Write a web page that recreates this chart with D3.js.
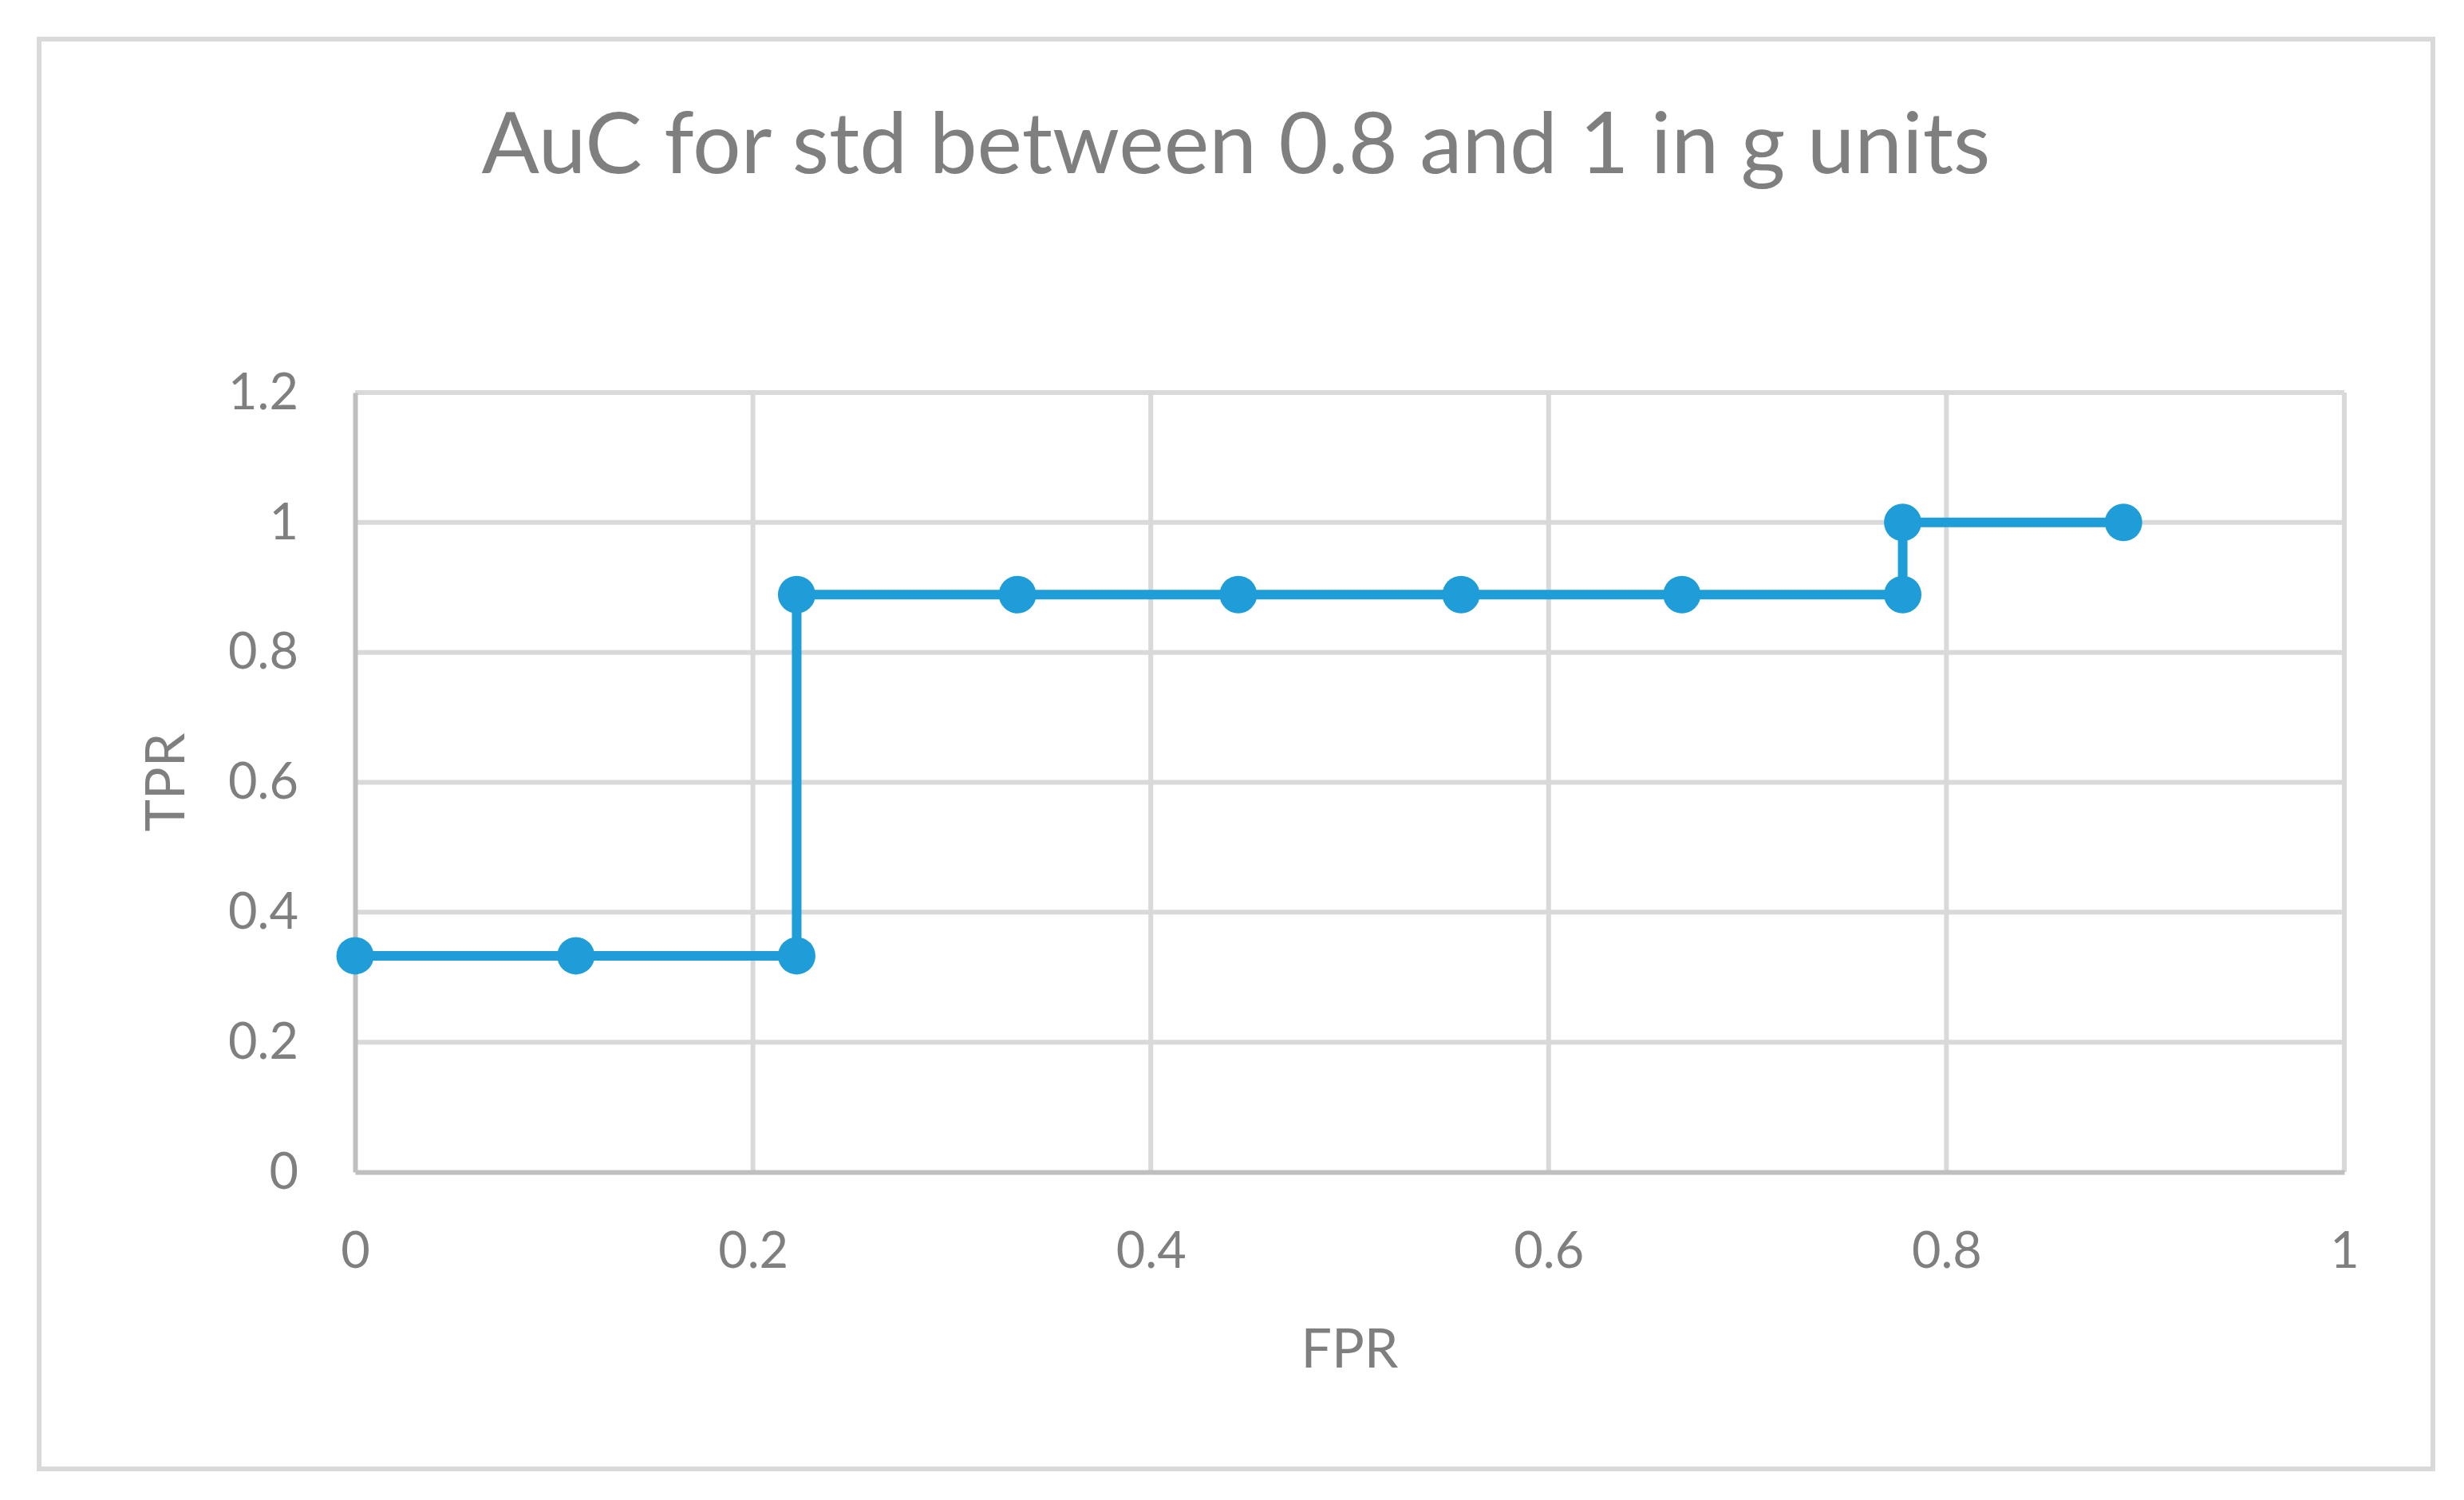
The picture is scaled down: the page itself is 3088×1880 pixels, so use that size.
<!DOCTYPE html>
<html>
<head>
<meta charset="utf-8">
<script src="https://cdn.jsdelivr.net/npm/d3@7"></script>
<style>
  html, body { margin: 0; padding: 0; background: #fff; }
  svg { display: block; }
</style>
</head>
<body>
<div id="chart"></div>
<script>
// ROC points (FPR, TPR)
const fprValues = [0, 0.111, 0.222, 0.222, 0.333, 0.444, 0.556, 0.667, 0.778, 0.778, 0.889];
const tprValues = [0.333, 0.333, 0.333, 0.889, 0.889, 0.889, 0.889, 0.889, 0.889, 1, 1];

const xTicks = [0, 0.2, 0.4, 0.6, 0.8, 1];
const yTicks = [0, 0.2, 0.4, 0.6, 0.8, 1, 1.2];

const chartTitle = 'AuC for std between 0.8 and 1 in g units';
const xTitle = 'FPR';
const yTitle = 'TPR';

const width = 3088;
const height = 1880;
const margin = { top: 492, right: 150, bottom: 411, left: 445 };
const innerW = width - margin.left - margin.right;
const innerH = height - margin.top - margin.bottom;

const textColor = '#7f7f7f';
const gridColor = '#d9d9d9';
const axisColor = '#bfbfbf';
const lineColor = '#1f9dd9';
const font = 'Lato, "Open Sans", sans-serif';

const points = fprValues.map((x, i) => ({ x: x, y: tprValues[i] }));

const svg = d3
  .select('#chart')
  .append('svg')
  .attr('width', width)
  .attr('height', height);

// chart area border
svg
  .append('rect')
  .attr('x', 49)
  .attr('y', 49)
  .attr('width', 3000)
  .attr('height', 1792)
  .attr('fill', '#fff')
  .attr('stroke', gridColor)
  .attr('stroke-width', 6);

svg
  .append('text')
  .attr('x', 1549)
  .attr('y', 217)
  .attr('text-anchor', 'middle')
  .attr('font-family', font)
  .attr('font-size', 107)
  .attr('fill', textColor)
  .text(chartTitle);

const x = d3.scaleLinear().domain([0, 1]).range([0, innerW]);
const y = d3.scaleLinear().domain([0, 1.2]).range([innerH, 0]);

const g = svg.append('g').attr('transform', `translate(${margin.left},${margin.top})`);

// gridlines
g.append('g')
  .selectAll('line')
  .data(yTicks.filter(d => d !== 0))
  .join('line')
  .attr('x1', 0)
  .attr('x2', innerW)
  .attr('y1', d => y(d))
  .attr('y2', d => y(d))
  .attr('stroke', gridColor)
  .attr('stroke-width', 6);

g.append('g')
  .selectAll('line')
  .data(xTicks.filter(d => d !== 0))
  .join('line')
  .attr('x1', d => x(d))
  .attr('x2', d => x(d))
  .attr('y1', 0)
  .attr('y2', innerH)
  .attr('stroke', gridColor)
  .attr('stroke-width', 6);

// axes (d3 axis, no tick marks, Excel style)
const xAxis = g
  .append('g')
  .attr('transform', `translate(0,${innerH})`)
  .call(d3.axisBottom(x).tickValues(xTicks).tickFormat(d3.format('~g')).tickSize(0).tickPadding(98));

const yAxis = g
  .append('g')
  .call(d3.axisLeft(y).tickValues(yTicks).tickFormat(d3.format('~g')).tickSize(0).tickPadding(71));

[xAxis, yAxis].forEach(a => {
  a.select('.domain').attr('stroke', axisColor).attr('stroke-width', 6);
  a.selectAll('text')
    .attr('font-family', font)
    .attr('font-size', 63)
    .attr('fill', textColor);
});
xAxis.selectAll('text').attr('dy', '0.35em').attr('y', 98);

// axis titles
svg
  .append('text')
  .attr('x', margin.left + innerW / 2)
  .attr('y', 1690)
  .attr('dy', '0.35em')
  .attr('text-anchor', 'middle')
  .attr('font-family', font)
  .attr('font-size', 68)
  .attr('fill', textColor)
  .text(xTitle);

svg
  .append('text')
  .attr('transform', `translate(207,${margin.top + innerH / 2}) rotate(-90)`)
  .attr('dy', '0.35em')
  .attr('text-anchor', 'middle')
  .attr('font-family', font)
  .attr('font-size', 68)
  .attr('fill', textColor)
  .text(yTitle);

// ROC line + markers
const line = d3
  .line()
  .x(d => x(d.x))
  .y(d => y(d.y));

g.append('path')
  .datum(points)
  .attr('d', line)
  .attr('fill', 'none')
  .attr('stroke', lineColor)
  .attr('stroke-width', 12)
  .attr('stroke-linejoin', 'round');

g.append('g')
  .selectAll('circle')
  .data(points)
  .join('circle')
  .attr('cx', d => x(d.x))
  .attr('cy', d => y(d.y))
  .attr('r', 23.5)
  .attr('fill', lineColor);
</script>
</body>
</html>
